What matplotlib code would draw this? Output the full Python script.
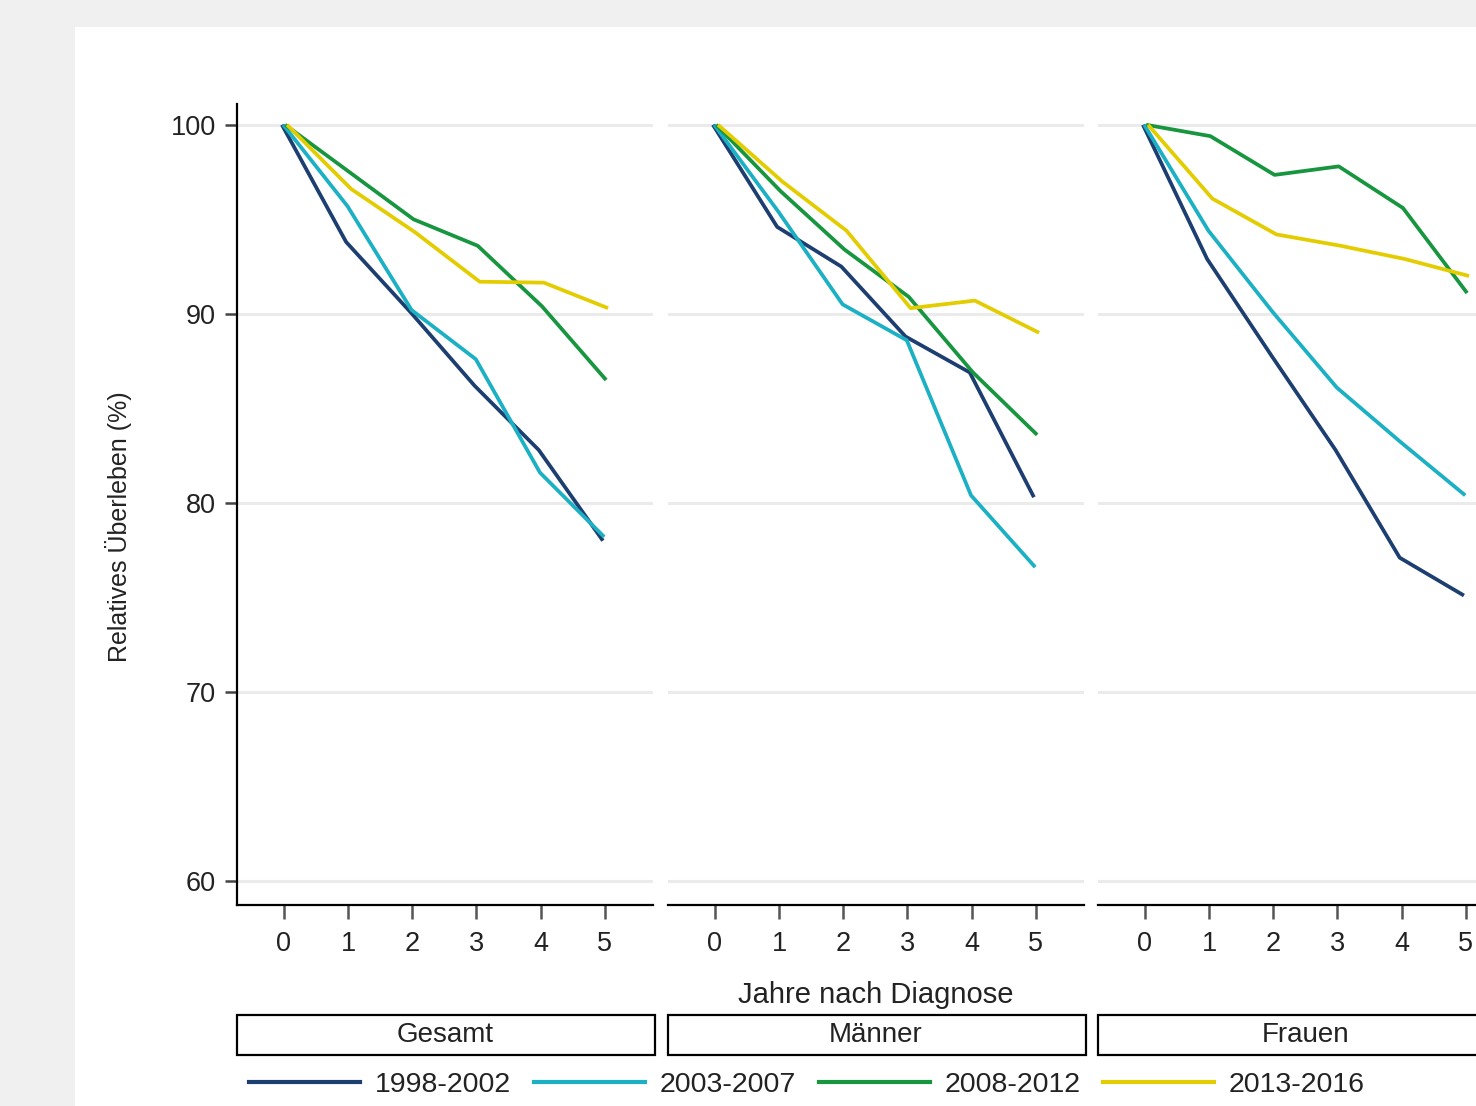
import matplotlib
matplotlib.use("Agg")
import matplotlib.pyplot as plt
from matplotlib.patches import Rectangle
from matplotlib.lines import Line2D

plt.rcParams['font.family'] = ['Liberation Sans', 'DejaVu Sans']

years = [0, 1, 2, 3, 4, 5]
panels = ["Gesamt", "Männer", "Frauen"]
periods = ["1998-2002", "2003-2007", "2008-2012", "2013-2016"]

gesamt_1998 = [100, 93.8, 90.1, 86.2, 82.8, 78.0]
gesamt_2003 = [100, 95.7, 90.2, 87.6, 81.6, 78.2]
gesamt_2008 = [100, 97.5, 95.0, 93.6, 90.4, 86.5]
gesamt_2013 = [100, 96.6, 94.3, 91.7, 91.65, 90.3]

maenner_1998 = [100, 94.6, 92.5, 88.8, 86.9, 80.3]
maenner_2003 = [100, 95.4, 90.5, 88.6, 80.4, 76.6]
maenner_2008 = [100, 96.5, 93.4, 90.9, 86.9, 83.6]
maenner_2013 = [100, 97.0, 94.4, 90.3, 90.7, 89.0]

frauen_1998 = [100, 92.9, 87.8, 82.8, 77.1, 75.1]
frauen_2003 = [100, 94.4, 90.1, 86.1, 83.2, 80.4]
frauen_2008 = [100, 99.4, 97.35, 97.8, 95.6, 91.1]
frauen_2013 = [100, 96.1, 94.2, 93.6, 92.9, 92.0]

data = {
    "Gesamt": [gesamt_1998, gesamt_2003, gesamt_2008, gesamt_2013],
    "Männer": [maenner_1998, maenner_2003, maenner_2008, maenner_2013],
    "Frauen": [frauen_1998, frauen_2003, frauen_2008, frauen_2013],
}

colors = ["#1c3e70", "#1cb0c4", "#17963f", "#e3cd00"]
x_shift = [-0.03, -0.01, 0.02, 0.05]

W, H = 1476, 1106
fig = plt.figure(figsize=(W / 100, H / 100), dpi=100)
fig.patch.set_facecolor("#f0f0f0")
fig.patches.append(Rectangle((75 / W, 0), 1, 1 - 27 / H, transform=fig.transFigure,
                             facecolor="white", edgecolor="none", zorder=-5))

lefts = [237, 668, 1098]
pw = 416
bottom_px, top_px = 905, 104
tick_font = 19.5
for i, name in enumerate(panels):
    ax = fig.add_axes([lefts[i] / W, 1 - bottom_px / H, pw / W, (bottom_px - top_px) / H])
    ax.set_facecolor("none")
    for j, series in enumerate(data[name]):
        ax.plot([y + x_shift[j] for y in years], series, color=colors[j], lw=2.7,
                solid_capstyle="butt", zorder=3)
    ax.set_xlim(-0.73, 5.75)
    ax.set_ylim(58.73, 101.1)
    ax.set_xticks(years)
    ax.set_yticks([60, 70, 80, 90, 100])
    ax.grid(axis="y", color="#ebebeb", lw=2.2, zorder=1)
    ax.grid(axis="x", visible=False)
    for s in ["top", "right"]:
        ax.spines[s].set_visible(False)
    ax.spines["bottom"].set_linewidth(1.6)
    ax.tick_params(axis="x", length=10, width=1.8, color="#555555", labelsize=tick_font,
                   labelcolor="#222222", pad=9)
    if i == 0:
        ax.spines["left"].set_linewidth(1.6)
        ax.tick_params(axis="y", length=9, width=1.8, color="#444444", labelsize=tick_font,
                       labelcolor="#222222", pad=6)
        ax.set_ylabel("Relatives Überleben (%)", fontsize=18, color="#222222")
        ax.yaxis.set_label_coords(-0.252, 0.472)
    else:
        ax.spines["left"].set_visible(False)
        ax.tick_params(axis="y", left=False, labelleft=False)
    # strip box
    fig.patches.append(Rectangle((lefts[i] / W, 1 - 1055 / H), (pw + 2) / W, 40 / H,
                                 transform=fig.transFigure, facecolor="white",
                                 edgecolor="black", lw=1.6, zorder=2))
    fig.text((lefts[i] + pw / 2) / W, 1 - 1035 / H, name, ha="center", va="center",
             fontsize=20, color="#222222")

fig.text(876 / W, 1 - 995 / H, "Jahre nach Diagnose", ha="center", va="center",
         fontsize=21, color="#222222")

handles = [Line2D([], [], color=c, lw=3) for c in colors]
leg = fig.legend(handles, periods, loc="center", bbox_to_anchor=(807 / W, 1 - 1085 / H),
                 ncol=4, frameon=False, fontsize=20.5, handlelength=3.9, handletextpad=0.52,
                 columnspacing=0.8)
for t in leg.get_texts():
    t.set_color("#222222")

fig.savefig("out.png", dpi=100, facecolor=fig.get_facecolor())
